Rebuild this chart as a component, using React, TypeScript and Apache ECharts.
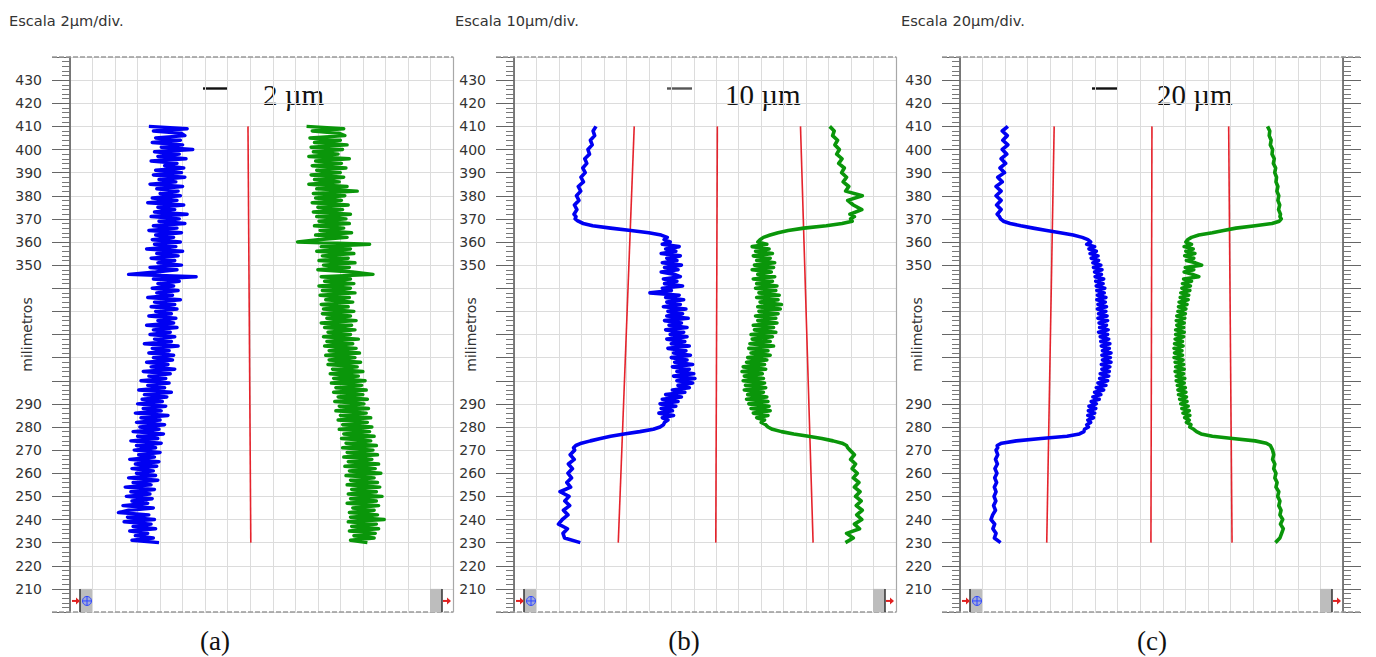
import { useEffect, useRef } from "react";
import * as echarts from "echarts";

// Depth samples (mm) shared by the two profiles of panel (a), one per millimetre
const depthA = [
  410, 409, 408, 407, 406, 405, 404, 403, 402, 401,
  400, 399, 398, 397, 396, 395, 394, 393, 392, 391,
  390, 389, 388, 387, 386, 385, 384, 383, 382, 381,
  380, 379, 378, 377, 376, 375, 374, 373, 372, 371,
  370, 369, 368, 367, 366, 365, 364, 363, 362, 361,
  360, 359, 358, 357, 356, 355, 354, 353, 352, 351,
  350, 349, 348, 347, 346, 345, 344, 343, 342, 341,
  340, 339, 338, 337, 336, 335, 334, 333, 332, 331,
  330, 329, 328, 327, 326, 325, 324, 323, 322, 321,
  320, 319, 318, 317, 316, 315, 314, 313, 312, 311,
  310, 309, 308, 307, 306, 305, 304, 303, 302, 301,
  300, 299, 298, 297, 296, 295, 294, 293, 292, 291,
  290, 289, 288, 287, 286, 285, 284, 283, 282, 281,
  280, 279, 278, 277, 276, 275, 274, 273, 272, 271,
  270, 269, 268, 267, 266, 265, 264, 263, 262, 261,
  260, 259, 258, 257, 256, 255, 254, 253, 252, 251,
  250, 249, 248, 247, 246, 245, 244, 243, 242, 241,
  240, 239, 238, 237, 236, 235, 234, 233, 232, 231,
  230,
];

// Panel (a): lateral position (µm) of the left (blue) and right (green) profiles
const blueA = [
  7.0, 10.4, 7.4, 9.9, 10.2, 7.6, 9.8, 7.3, 10.0, 8.1,
  10.9, 7.5, 9.7, 7.8, 10.3, 7.2, 9.5, 8.4, 10.1, 7.6,
  9.9, 7.4, 10.2, 7.9, 9.4, 7.1, 10.0, 7.7, 9.6, 8.0,
  9.8, 7.3, 9.5, 6.9, 10.1, 7.8, 9.3, 7.5, 10.4, 7.2,
  9.7, 7.9, 10.2, 7.4, 9.5, 7.0, 9.9, 7.6, 9.2, 7.3,
  9.8, 7.5, 9.4, 6.8, 10.0, 7.7, 9.6, 7.2, 9.3, 7.8,
  9.9, 7.1, 9.5, 7.6, 5.2, 11.2, 7.4, 9.7, 7.8, 9.2,
  7.3, 9.6, 7.7, 9.1, 6.9, 9.8, 7.5, 9.3, 7.2, 9.5,
  7.6, 9.0, 7.0, 9.4, 7.8, 9.2, 6.8, 9.5, 7.4, 8.9,
  7.1, 9.3, 7.5, 9.0, 6.6, 9.6, 7.3, 8.8, 7.0, 9.2,
  7.4, 9.1, 6.8, 8.7, 7.2, 9.3, 6.5, 8.9, 7.0, 8.5,
  6.3, 8.8, 6.9, 8.4, 6.1, 9.0, 6.6, 8.6, 6.4, 8.2,
  6.0, 8.5, 6.5, 8.1, 5.8, 8.7, 6.3, 8.0, 5.9, 8.4,
  6.2, 7.9, 5.6, 8.3, 6.0, 7.8, 5.4, 8.1, 5.9, 7.6,
  5.7, 8.0, 6.1, 7.5, 5.3, 7.9, 5.8, 7.7, 5.5, 7.4,
  5.9, 7.6, 5.2, 7.8, 5.6, 7.2, 4.9, 7.5, 5.4, 7.1,
  5.0, 7.3, 5.5, 6.9, 4.7, 7.4, 5.2, 4.3, 7.0, 5.1,
  7.5, 4.8, 7.2, 5.6, 7.6, 5.3, 6.9, 5.8, 7.4, 5.5,
  7.9,
];
const greenA = [
  21.0, 24.3, 21.5, 23.9, 24.4, 21.3, 24.0, 21.7, 24.6, 21.4,
  24.2, 21.6, 23.8, 21.2, 24.8, 21.8, 24.1, 21.5, 24.5, 21.9,
  24.0, 21.4, 24.3, 21.7, 23.9, 21.2, 24.6, 21.9, 25.5, 21.6,
  24.4, 21.8, 24.1, 21.5, 24.7, 22.0, 24.2, 21.6, 24.9, 21.9,
  24.5, 22.1, 24.8, 21.7, 24.3, 22.2, 25.0, 21.8, 24.6, 22.0,
  20.2, 26.6, 22.3, 24.9, 21.9, 25.2, 22.4, 24.7, 22.1, 25.3,
  22.5, 24.8, 22.0, 25.1, 26.9, 22.3, 24.9, 22.6, 25.2, 22.1,
  24.9, 22.4, 25.3, 22.2, 24.8, 22.7, 25.1, 22.3, 24.7, 22.5,
  25.2, 22.4, 24.9, 22.8, 25.4, 22.3, 25.0, 22.6, 25.3, 22.9,
  24.9, 22.5, 25.6, 22.8, 25.1, 22.6, 25.4, 23.0, 25.7, 22.7,
  25.3, 23.0, 25.8, 22.9, 25.5, 23.3, 26.0, 23.1, 25.6, 23.4,
  26.2, 23.2, 25.9, 23.6, 26.3, 23.4, 26.0, 23.8, 26.4, 23.5,
  26.1, 23.9, 26.5, 23.6, 26.3, 24.0, 26.7, 23.8, 26.4, 24.2,
  26.8, 23.9, 26.6, 24.3, 27.0, 24.1, 26.7, 24.5, 27.2, 24.2,
  26.9, 24.6, 27.3, 24.3, 26.8, 24.7, 27.4, 24.4, 27.1, 24.8,
  27.6, 24.5, 27.0, 24.9, 27.3, 24.6, 27.5, 25.0, 27.2, 24.7,
  27.7, 24.9, 27.2, 24.6, 27.4, 25.1, 27.0, 24.8, 27.3, 24.9,
  27.9, 24.7, 27.2, 25.0, 27.4, 24.8, 27.1, 25.2, 27.0, 24.9,
  26.4,
];

// Depth samples (mm) for panels (b) and (c): 2 mm at the ends, 1 mm through the steps and the middle
const depthBC = [
  410, 408, 406, 404, 402, 400, 398, 396, 394, 392, 390, 388, 386, 384, 382, 380, 378, 376, 374, 372,
  371, 370, 369, 368, 367, 366, 365, 364, 363, 362, 361, 360,
  359, 358, 357, 356, 355, 354, 353, 352, 351, 350,
  349, 348, 347, 346, 345, 344, 343, 342, 341, 340,
  339, 338, 337, 336, 335, 334, 333, 332, 331, 330,
  329, 328, 327, 326, 325, 324, 323, 322, 321, 320,
  319, 318, 317, 316, 315, 314, 313, 312, 311, 310,
  309, 308, 307, 306, 305, 304, 303, 302, 301, 300,
  299, 298, 297, 296, 295, 294, 293, 292, 291, 290,
  289, 288, 287, 286, 285, 284,
  283, 282, 281, 280, 279, 278, 277, 276, 275, 274, 273, 272, 271, 270,
  268, 266, 264, 262, 260, 258, 256, 254, 252, 250, 248, 246, 244, 242, 240, 238, 236, 234, 232, 230,
];

const blueB = [
  36.5, 35.2, 35.9, 34.0, 34.8, 32.9, 33.6, 31.5, 32.4, 30.6, 31.7, 29.8, 30.9, 28.6, 29.7, 27.8, 28.9, 26.9, 28.0, 26.7,
  27.6, 27.2, 28.6, 30.8, 35.0, 43.0, 52.0, 60.0, 65.5, 68.2, 66.8, 69.5,
  66.0, 73.5, 67.5, 72.0, 65.5, 74.0, 68.0, 72.5, 66.0, 74.5,
  67.0, 73.0, 65.5, 71.5, 74.0, 66.5, 72.5, 67.0, 75.0, 66.0,
  70.0, 60.5, 73.5, 67.5, 75.5, 68.0, 74.0, 66.5, 76.5, 68.5,
  75.0, 68.0, 77.5, 67.0, 74.5, 69.0, 77.0, 67.5, 75.5, 69.5,
  77.0, 68.0, 76.0, 70.0, 78.0, 68.5, 76.5, 71.0, 78.5, 70.0,
  77.0, 71.5, 79.5, 70.5, 78.0, 72.5, 80.0, 71.0, 80.5, 72.5,
  79.5, 73.0, 78.0, 70.5, 76.0, 67.5, 74.5, 66.0, 73.0, 65.0,
  72.0, 65.5, 70.5, 64.5, 71.0, 66.0,
  68.5, 67.0, 66.5, 65.0, 62.0, 56.0, 49.0, 43.0, 38.5, 34.0, 30.0, 27.5, 26.5, 27.0,
  25.0, 26.8, 24.2, 26.0, 24.0, 25.6, 23.5, 25.2, 20.5, 24.5, 22.6, 24.8, 22.0, 24.0, 21.5, 19.8, 23.8, 21.8, 22.5, 29.5,
];
const greenB = [
  140.5, 142.5, 141.8, 144.0, 142.8, 144.8, 143.6, 146.0, 144.5, 147.0, 145.8, 148.0, 146.5, 149.0, 147.6, 155.0, 148.5, 151.0, 154.8, 149.5,
  151.5, 149.8, 150.5, 146.0, 139.0, 129.0, 122.0, 117.5, 114.0, 111.0, 109.5, 108.5,
  112.5, 106.0, 113.5, 107.5, 115.0, 106.5, 114.0, 108.0, 116.0, 107.0,
  115.5, 106.0, 114.5, 108.5, 116.0, 106.5, 115.0, 108.0, 117.0, 107.5,
  116.5, 109.0, 118.0, 108.0, 117.5, 109.5, 119.0, 108.5, 118.5, 109.0,
  117.5, 107.5, 116.5, 108.5, 117.0, 106.5, 115.5, 107.0, 116.5, 105.5,
  115.0, 106.0, 114.0, 105.0, 115.5, 104.5, 113.0, 105.5, 114.0, 104.0,
  112.5, 103.5, 111.5, 102.0, 112.0, 101.5, 110.5, 102.5, 111.0, 102.0,
  111.5, 103.0, 112.0, 102.5, 111.0, 104.0, 112.5, 103.5, 113.0, 104.5,
  113.5, 105.5, 114.0, 106.5, 113.0, 108.0,
  111.5, 110.0, 112.0, 113.0, 115.0, 119.0, 124.5, 131.0, 137.0, 142.0, 146.0, 148.0, 148.5, 149.5,
  151.5, 149.8, 152.0, 150.5, 152.8, 151.0, 153.5, 151.5, 154.0, 152.0, 154.5, 152.3, 155.0, 152.5, 154.8, 151.5, 153.8, 148.0, 151.0, 147.5,
];

const blueC = [
  42.5, 37.5, 42.0, 38.0, 42.5, 37.5, 41.5, 36.5, 40.5, 35.5, 39.5, 33.5, 37.5, 32.0, 36.5, 32.0, 36.5, 32.5, 36.5, 33.0,
  35.0, 36.0, 38.5, 44.5, 54.0, 65.0, 77.0, 89.0, 100.5, 108.5, 113.5, 116.0,
  112.5, 119.5, 114.5, 121.0, 115.5, 122.5, 116.5, 123.0, 118.0, 125.0,
  118.5, 126.0, 119.5, 125.5, 120.0, 127.5, 120.5, 127.0, 121.0, 128.5,
  121.5, 128.0, 122.0, 129.5, 121.5, 129.0, 122.5, 130.0, 122.0, 129.5,
  123.0, 130.5, 122.5, 131.0, 123.5, 130.0, 124.0, 131.5, 123.0, 131.0,
  124.5, 132.0, 125.0, 133.0, 125.5, 132.5, 126.5, 134.0, 126.0, 133.5,
  126.5, 134.0, 125.5, 133.0, 126.0, 132.5, 124.5, 132.0, 124.0, 131.0,
  122.5, 129.5, 121.0, 127.5, 119.5, 125.0, 118.0, 123.5, 116.5, 121.0,
  114.5, 120.5, 114.0, 119.5, 113.5, 118.5,
  113.5, 116.0, 112.5, 114.0, 110.5, 110.0, 106.0, 95.0, 72.0, 50.0, 37.0, 33.0, 33.5, 32.0,
  33.5, 31.5, 33.2, 31.0, 32.8, 30.8, 32.5, 30.5, 32.0, 30.2, 31.8, 29.8, 31.5, 29.0, 27.5, 30.8, 29.2, 32.0, 30.5, 36.0,
];
const greenC = [
  273.0, 275.0, 274.5, 276.2, 275.5, 277.5, 277.0, 279.0, 278.2, 280.2, 279.4, 281.0, 280.5, 282.2, 281.3, 283.0, 282.2, 283.8, 282.8, 284.5,
  284.0, 285.2, 283.5, 277.0, 262.0, 245.0, 234.0, 224.0, 212.0, 205.5, 202.0, 200.5,
  205.5, 199.0, 207.0, 200.5, 208.5, 199.5, 207.5, 201.0, 209.0, 214.5,
  200.0, 207.5, 199.0, 206.5, 212.0, 198.5, 205.5, 197.5, 204.5, 197.0,
  204.0, 196.0, 203.0, 195.5, 202.5, 194.5, 201.5, 194.0, 200.5, 193.5,
  200.0, 192.5, 199.5, 192.0, 199.0, 192.5, 198.5, 191.5, 199.0, 191.5,
  198.5, 191.0, 197.5, 190.5, 198.0, 190.0, 197.0, 190.5, 197.5, 190.0,
  198.0, 191.0, 198.5, 191.5, 199.0, 191.0, 198.5, 192.0, 199.5, 192.0,
  199.0, 193.0, 200.0, 193.5, 200.5, 194.0, 201.0, 195.0, 201.5, 196.0,
  202.5, 197.0, 203.5, 198.0, 204.0, 199.5,
  203.5, 201.0, 205.0, 204.0, 207.5, 210.0, 214.0, 224.0, 242.0, 262.0, 272.0, 275.5, 276.5, 277.5,
  278.5, 277.5, 279.5, 278.5, 280.5, 279.5, 281.5, 280.5, 283.0, 282.0, 284.0, 283.0, 285.0, 284.0, 286.5, 284.5, 287.0, 285.5, 284.0, 280.0,
];

// Red reference lines: position (µm) at the top and bottom of the scanned span
const redSpan = [410, 230];
const redTopA = [15.8];
const redBottomA = [16.05];
const redTopB = [53.5, 90.5, 127.5];
const redBottomB = [46.4, 89.8, 133.1];
const redTopC = [83.6, 170.4, 238.5];
const redBottomC = [77.0, 169.5, 241.5];

// Axis / labels
const yRange = [200, 440];
const yStep = 10;
const hiddenLabels = [300, 310, 320, 330, 340];
const umPerDiv = [2, 10, 20];
const divisions = 17;
const titles = ["Escala 2µm/div.", "Escala 10µm/div.", "Escala 20µm/div."];
const scaleTexts = ["2 µm", "10 µm", "20 µm"];
const letters = ["(a)", "(b)", "(c)"];
const axisName = "milimetros";

// Layout (px)
const LEFTS = [70, 514, 960];
const WIDTHS = [383, 382, 383];
const TOP = 57;
const HEIGHT = 555;
const TITLE_X = [9, 455, 901];
const BAR_X = [203, 667, 1092];
const BAR_COLORS = ["#111", "#555", "#111"];
const SCALE_TEXT_X = [263, 725, 1157];
const LETTER_X = [215, 684, 1152];

const SANS = "DejaVu Sans";
const SERIF = "Liberation Serif";
const GRID_COLOR = "#dcdcdc";
const BLUE = "#0000f2";
const GREEN = "#0a960a";
const RED = "#e5232c";

const yPix = (v: number) => TOP + ((yRange[1] - v) / (yRange[1] - yRange[0])) * HEIGHT;

const pairs = (xs: number[], ys: number[]) => xs.map((x, i) => [x, ys[i]]);

const panelData = [
  { blue: blueA, green: greenA, depth: depthA, redTop: redTopA, redBottom: redBottomA, width: 3.4 },
  { blue: blueB, green: greenB, depth: depthBC, redTop: redTopB, redBottom: redBottomB, width: 3.6 },
  { blue: blueC, green: greenC, depth: depthBC, redTop: redTopC, redBottom: redBottomC, width: 3.6 },
];

function buildOption() {
  const grid = LEFTS.map((left, i) => ({ left, top: TOP, width: WIDTHS[i], height: HEIGHT }));

  const xAxis = LEFTS.map((_, i) => ({
    type: "value",
    gridIndex: i,
    min: 0,
    max: divisions * umPerDiv[i],
    interval: umPerDiv[i],
    axisLine: { show: false },
    axisTick: { show: false },
    axisLabel: { show: false },
    splitLine: { show: true, lineStyle: { color: GRID_COLOR, width: 1 } },
  }));

  const leftAxes = LEFTS.map((_, i) => ({
    type: "value",
    gridIndex: i,
    position: "left",
    min: yRange[0],
    max: yRange[1],
    interval: yStep,
    axisLine: { show: true, lineStyle: { color: "#555", width: 1.5 } },
    axisTick: { show: true, length: 18, lineStyle: { color: "#666", width: 1 } },
    minorTick: { show: true, splitNumber: 5, length: 8, lineStyle: { color: "#777", width: 1 } },
    axisLabel: {
      margin: 28,
      fontFamily: SANS,
      fontSize: 14,
      color: "#333",
      formatter: (v: number) =>
        v <= yRange[0] || v >= yRange[1] || hiddenLabels.includes(v) ? "" : String(v),
    },
    splitLine: { show: true, lineStyle: { color: GRID_COLOR, width: 1 } },
  }));

  const rightAxes = LEFTS.map((_, i) => ({
    type: "value",
    gridIndex: i,
    position: "right",
    min: yRange[0],
    max: yRange[1],
    interval: yStep,
    axisLine: { show: true, lineStyle: { color: i === 2 ? "#555" : "#a8a8a8", width: i === 2 ? 1.5 : 1.2 } },
    axisTick: { show: i === 2, length: 18, lineStyle: { color: "#666", width: 1 } },
    minorTick: { show: i === 2, splitNumber: 5, length: 8, lineStyle: { color: "#777", width: 1 } },
    axisLabel: { show: false },
    splitLine: { show: false },
  }));

  const series: any[] = [];
  panelData.forEach((p, i) => {
    p.redTop.forEach((top, k) => {
      series.push({
        type: "line",
        xAxisIndex: i,
        yAxisIndex: i,
        data: [
          [top, redSpan[0]],
          [p.redBottom[k], redSpan[1]],
        ],
        symbol: "none",
        lineStyle: { color: RED, width: 1.6 },
        z: 2,
      });
    });
    series.push({
      type: "line",
      xAxisIndex: i,
      yAxisIndex: i,
      data: pairs(p.blue, p.depth),
      symbol: "none",
      lineStyle: { color: BLUE, width: p.width, join: "round" },
      z: 3,
    });
    series.push({
      type: "line",
      xAxisIndex: i,
      yAxisIndex: i,
      data: pairs(p.green, p.depth),
      symbol: "none",
      lineStyle: { color: GREEN, width: p.width, join: "round" },
      z: 3,
    });
  });

  const graphic: any[] = [];
  const yTopWidget = yPix(210);
  const yBot = TOP + HEIGHT;
  const yMid = (yTopWidget + yBot) / 2 + 0.5;
  LEFTS.forEach((L, i) => {
    const R = L + WIDTHS[i];
    // panel title
    graphic.push({
      type: "text",
      left: TITLE_X[i],
      top: 13,
      style: { text: titles[i], fontFamily: SANS, fontSize: 14.6, fill: "#333" },
    });
    // vertical axis name
    graphic.push({
      type: "text",
      x: L - 43,
      y: TOP + HEIGHT / 2,
      rotation: Math.PI / 2,
      style: { text: axisName, fontFamily: SANS, fontSize: 14, fill: "#333", align: "center", verticalAlign: "middle" },
    });
    // scale bar and its caption
    graphic.push({
      type: "line",
      shape: { x1: BAR_X[i], y1: 88.5, x2: BAR_X[i] + 25, y2: 88.5 },
      style: { stroke: BAR_COLORS[i], lineWidth: 2.4 },
    });
    graphic.push({
      type: "text",
      x: SCALE_TEXT_X[i],
      y: 95,
      style: { text: scaleTexts[i], fontFamily: SERIF, fontSize: 29, fill: "#111", verticalAlign: "middle" },
    });
    // panel letter
    graphic.push({
      type: "text",
      x: LETTER_X[i],
      y: 641,
      style: { text: letters[i], fontFamily: SERIF, fontSize: 27, fill: "#111", align: "center", verticalAlign: "middle" },
    });
    // dashed frame top and bottom
    const frameRight = i === 2 ? R + 17 : R;
    [TOP, yBot].forEach((yy) => {
      graphic.push({
        type: "line",
        shape: { x1: L - 18, y1: yy, x2: frameRight, y2: yy },
        style: { stroke: "#9a9a9a", lineWidth: 1.6, lineDash: [5, 2] },
        z: 10,
      });
    });
    // bottom-left cursor widget
    graphic.push({
      type: "rect",
      shape: { x: L + 10, y: yTopWidget, width: 12, height: yBot - yTopWidget },
      style: { fill: "#bdbdbd" },
      z: 11,
    });
    graphic.push({
      type: "line",
      shape: { x1: L + 10, y1: yTopWidget, x2: L + 10, y2: yBot },
      style: { stroke: "#333", lineWidth: 1.5 },
      z: 12,
    });
    graphic.push({
      type: "circle",
      shape: { cx: L + 17, cy: yMid, r: 4.5 },
      style: { fill: "rgba(120,140,255,0.45)", stroke: "#3148ff", lineWidth: 1 },
      z: 12,
    });
    graphic.push({
      type: "line",
      shape: { x1: L + 12.5, y1: yMid, x2: L + 21.5, y2: yMid },
      style: { stroke: "#3148ff", lineWidth: 1 },
      z: 12,
    });
    graphic.push({
      type: "line",
      shape: { x1: L + 17, y1: yMid - 4.5, x2: L + 17, y2: yMid + 4.5 },
      style: { stroke: "#3148ff", lineWidth: 1 },
      z: 12,
    });
    graphic.push({
      type: "line",
      shape: { x1: L + 2, y1: yMid, x2: L + 7, y2: yMid },
      style: { stroke: "#e02020", lineWidth: 2 },
      z: 12,
    });
    graphic.push({
      type: "polygon",
      shape: { points: [[L + 6, yMid - 3.5], [L + 10, yMid], [L + 6, yMid + 3.5]] },
      style: { fill: "#e02020" },
      z: 12,
    });
    // bottom-right cursor widget
    graphic.push({
      type: "rect",
      shape: { x: R - 23, y: yTopWidget, width: 12, height: yBot - yTopWidget },
      style: { fill: "#bdbdbd" },
      z: 11,
    });
    graphic.push({
      type: "line",
      shape: { x1: R - 11, y1: yTopWidget, x2: R - 11, y2: yBot },
      style: { stroke: "#333", lineWidth: 1.5 },
      z: 12,
    });
    graphic.push({
      type: "line",
      shape: { x1: R - 10, y1: yMid, x2: R - 5, y2: yMid },
      style: { stroke: "#e02020", lineWidth: 2 },
      z: 12,
    });
    graphic.push({
      type: "polygon",
      shape: { points: [[R - 6, yMid - 3.5], [R - 2, yMid], [R - 6, yMid + 3.5]] },
      style: { fill: "#e02020" },
      z: 12,
    });
  });

  return {
    animation: false,
    backgroundColor: "#ffffff",
    grid,
    xAxis,
    yAxis: [...leftAxes, ...rightAxes],
    series,
    graphic,
  };
}

export default function App() {
  const ref = useRef<HTMLDivElement>(null);
  useEffect(() => {
    if (!ref.current) return;
    const chart = echarts.init(ref.current, undefined, { renderer: "svg" });
    chart.setOption(buildOption() as any);
    return () => chart.dispose();
  }, []);
  return (
    <div
      ref={ref}
      style={{ position: "absolute", left: 0, top: 0, width: 1376, height: 657, background: "#fff" }}
    />
  );
}
